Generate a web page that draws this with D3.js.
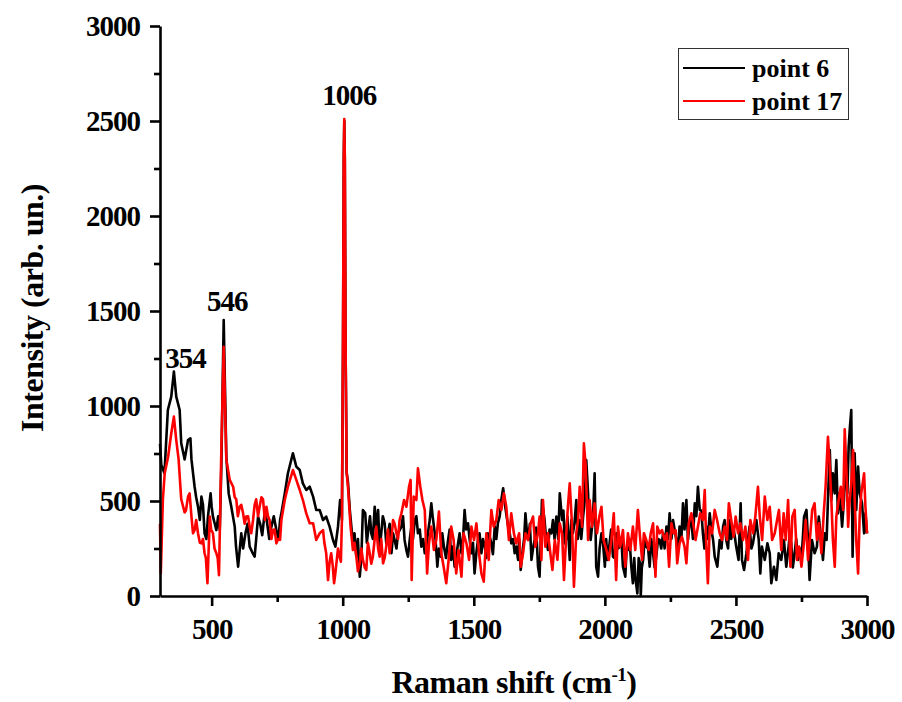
<!DOCTYPE html>
<html>
<head>
<meta charset="utf-8">
<script src="https://cdn.jsdelivr.net/npm/d3@7"></script>
<style>
  html, body { margin: 0; padding: 0; background: #fff; }
  svg text { font-family: "Liberation Serif", "Times New Roman", serif; font-weight: bold; fill: #000; }
</style>
</head>
<body>
<svg id="chart" width="902" height="702"></svg>
<script>
// ---- data: [Raman shift (cm-1), intensity (arb. un.)] ----
const point6 = [
[303,800],[308,690],[320,646],[333,979],[346,1049],[356,1181],[365,1049],[378,979],[384,804],[397,719],
[410,821],[419,830],[423,719],[435,575],[441,520],[448,470],[455,400],[461,523],[467,480],[473,330],
[480,300],[486,418],[491,480],[496,540],[500,470],[505,418],[512,380],[518,347],[525,420],[531,347],
[537,681],[546,1453],[556,733],[565,540],[575,470],[588,365],[593,260],[601,154],[613,330],[620,250],
[629,330],[637,380],[645,260],[655,230],[664,207],[670,300],[677,418],[685,380],[693,320],[702,435],
[710,400],[720,300],[728,365],[737,420],[747,347],[755,300],[761,400],[766,435],[779,540],[791,646],
[810,751],[823,681],[836,663],[848,593],[861,558],[874,575],[887,523],[899,453],[912,453],[925,400],
[937,418],[950,365],[963,295],[972,260],[982,365],[990,505],[997,400],[1001,1300],[1004,2300],[1006,2500],
[1008,2300],[1011,1300],[1015,650],[1020,600],[1027,453],[1039,277],[1045,330],[1052,207],[1058,300],[1065,102],
[1071,200],[1077,453],[1086,435],[1092,280],[1099,365],[1104,420],[1109,330],[1115,300],[1122,470],[1128,350],
[1135,453],[1141,250],[1147,330],[1153,420],[1160,383],[1166,280],[1173,330],[1179,380],[1186,225],[1192,330],
[1198,295],[1205,250],[1211,330],[1224,365],[1230,420],[1236,295],[1243,240],[1249,207],[1256,300],[1262,365],
[1268,300],[1275,400],[1281,420],[1287,330],[1294,350],[1300,260],[1307,300],[1313,225],[1319,250],[1325,330],
[1332,400],[1338,488],[1343,420],[1348,365],[1354,300],[1361,154],[1367,250],[1374,207],[1380,330],[1386,260],
[1394,200],[1402,295],[1408,350],[1414,190],[1420,260],[1427,154],[1434,220],[1440,277],[1446,330],[1453,225],
[1459,300],[1465,453],[1471,350],[1478,383],[1484,300],[1491,225],[1497,280],[1503,119],[1510,230],[1516,295],
[1522,330],[1529,225],[1535,300],[1542,260],[1548,200],[1554,330],[1561,310],[1567,277],[1573,220],[1580,365],
[1586,300],[1592,383],[1599,420],[1605,505],[1612,567],[1620,470],[1631,365],[1637,330],[1643,277],[1650,300],
[1656,225],[1662,260],[1669,190],[1673,300],[1679,137],[1688,260],[1692,300],[1697,435],[1702,350],[1707,295],
[1714,380],[1720,190],[1726,250],[1732,295],[1738,360],[1745,154],[1751,102],[1760,505],[1770,400],[1776,300],
[1783,242],[1789,350],[1796,330],[1802,400],[1808,300],[1815,418],[1822,300],[1828,540],[1837,400],[1842,450],
[1847,277],[1852,300],[1857,418],[1866,190],[1872,400],[1878,330],[1884,380],[1891,505],[1897,300],[1904,400],
[1910,300],[1917,418],[1923,500],[1929,716],[1936,540],[1940,350],[1946,295],[1955,418],[1961,646],[1967,154],
[1974,102],[1980,250],[1987,330],[1993,280],[2000,154],[2005,300],[2010,190],[2018,277],[2024,350],[2031,207],
[2037,200],[2044,330],[2050,250],[2057,260],[2063,300],[2069,154],[2078,102],[2083,250],[2088,242],[2094,300],
[2101,154],[2107,67],[2112,200],[2116,102],[2124,13],[2129,200],[2134,172],[2137,0],[2141,150],[2146,190],
[2152,300],[2158,260],[2165,250],[2171,154],[2177,300],[2184,225],[2190,150],[2196,207],[2203,300],[2209,295],
[2215,250],[2222,330],[2228,250],[2235,365],[2241,300],[2247,435],[2254,300],[2260,400],[2266,350],[2273,295],
[2279,250],[2285,365],[2292,300],[2298,488],[2304,350],[2311,505],[2317,295],[2323,380],[2330,400],[2336,300],
[2343,488],[2349,420],[2355,575],[2362,453],[2368,450],[2374,330],[2380,250],[2387,365],[2393,300],[2400,435],
[2406,350],[2413,295],[2419,207],[2429,154],[2438,295],[2445,250],[2451,365],[2457,400],[2463,295],[2470,250],
[2476,400],[2482,300],[2489,365],[2495,320],[2501,260],[2510,190],[2518,488],[2523,190],[2531,137],[2540,225],
[2546,300],[2552,365],[2559,250],[2565,277],[2571,330],[2578,400],[2582,350],[2587,295],[2593,119],[2599,260],
[2610,190],[2620,277],[2629,225],[2635,67],[2645,154],[2654,84],[2663,225],[2673,190],[2683,295],[2692,154],
[2701,260],[2705,320],[2711,277],[2717,150],[2724,225],[2730,300],[2737,190],[2744,250],[2750,190],[2755,300],
[2760,418],[2769,453],[2775,295],[2781,84],[2790,295],[2800,225],[2809,260],[2816,418],[2823,330],[2832,190],
[2839,330],[2846,295],[2851,505],[2858,768],[2864,505],[2870,646],[2877,540],[2883,716],[2889,435],[2896,540],
[2905,365],[2912,505],[2917,698],[2925,540],[2930,786],[2935,891],[2940,979],[2945,207],[2953,751],[2959,453],
[2966,681],[2972,540],[2981,488],[2989,330],[2994,435],[3000,330]
];
const point17 = [
[303,380],[306,120],[314,509],[321,646],[334,733],[346,856],[356,944],[365,821],[374,719],[384,509],
[397,440],[402,450],[410,523],[416,540],[423,418],[429,330],[435,347],[441,400],[448,330],[455,280],
[461,277],[467,300],[473,225],[478,200],[484,67],[493,418],[498,350],[505,330],[511,250],[518,225],
[523,200],[528,110],[537,768],[546,1312],[556,719],[569,611],[582,575],[588,520],[594,509],[600,420],
[607,470],[613,480],[620,435],[626,380],[632,418],[639,420],[645,365],[651,330],[658,400],[664,480],
[670,509],[677,420],[683,470],[690,520],[696,509],[703,400],[709,470],[715,420],[721,400],[728,300],
[734,347],[740,350],[747,277],[754,300],[761,295],[766,400],[779,505],[791,575],[810,663],[823,611],
[836,558],[848,505],[861,435],[874,383],[887,383],[899,295],[912,330],[925,347],[930,280],[937,225],
[944,84],[950,180],[956,225],[962,160],[967,67],[972,120],[976,172],[982,250],[988,207],[993,180],
[997,400],[1001,1300],[1004,2300],[1006,2510],[1008,2300],[1011,1300],[1015,650],[1020,575],[1030,365],[1039,242],
[1045,280],[1052,207],[1058,130],[1065,172],[1071,250],[1077,190],[1084,150],[1090,137],[1096,280],[1103,225],
[1109,170],[1115,207],[1122,300],[1128,365],[1135,250],[1141,207],[1147,300],[1154,172],[1160,200],[1166,260],
[1173,350],[1179,225],[1186,300],[1192,400],[1198,380],[1205,330],[1211,300],[1217,400],[1224,435],[1234,505],
[1243,470],[1253,575],[1259,611],[1263,84],[1271,523],[1281,505],[1287,672],[1296,575],[1304,505],[1313,453],
[1322,119],[1329,277],[1338,365],[1348,242],[1357,295],[1367,444],[1376,225],[1385,154],[1395,67],[1404,190],
[1414,365],[1423,295],[1433,119],[1442,242],[1453,102],[1461,330],[1472,277],[1482,190],[1491,365],[1501,295],
[1510,382],[1520,225],[1529,119],[1538,75],[1548,330],[1557,190],[1567,453],[1576,365],[1586,400],[1595,505],
[1605,453],[1615,540],[1624,470],[1634,295],[1643,435],[1653,330],[1662,277],[1673,330],[1679,154],[1688,225],
[1697,330],[1707,295],[1717,382],[1726,418],[1735,260],[1745,330],[1751,418],[1758,190],[1764,505],[1773,260],
[1783,330],[1792,225],[1800,137],[1809,295],[1819,190],[1828,383],[1837,330],[1844,84],[1853,330],[1859,470],
[1866,593],[1875,365],[1882,49],[1891,330],[1898,400],[1904,575],[1913,365],[1920,804],[1927,681],[1936,295],
[1942,505],[1951,365],[1961,488],[1970,330],[1979,418],[1987,470],[1995,295],[2006,242],[2015,190],[2025,295],
[2034,435],[2043,84],[2050,365],[2059,260],[2069,347],[2078,154],[2088,330],[2097,242],[2107,365],[2116,242],
[2126,453],[2133,330],[2142,190],[2149,330],[2158,295],[2167,242],[2175,330],[2184,383],[2193,102],[2200,365],
[2209,330],[2218,347],[2228,295],[2237,330],[2245,154],[2254,383],[2262,330],[2270,347],[2276,172],[2285,277],
[2294,312],[2304,260],[2311,172],[2320,383],[2330,435],[2339,365],[2346,295],[2355,365],[2364,435],[2374,400],
[2381,558],[2387,260],[2393,67],[2400,365],[2409,330],[2419,453],[2428,400],[2438,330],[2447,295],[2457,365],
[2466,295],[2473,488],[2482,400],[2491,312],[2499,418],[2508,330],[2517,383],[2527,295],[2536,365],[2546,190],
[2555,400],[2565,330],[2574,418],[2584,575],[2591,418],[2600,295],[2610,523],[2620,400],[2629,470],[2638,295],
[2648,330],[2657,400],[2664,453],[2673,242],[2682,435],[2690,295],[2699,505],[2708,154],[2715,418],[2724,453],
[2733,190],[2741,260],[2750,154],[2758,260],[2766,400],[2775,190],[2784,330],[2791,453],[2800,488],[2809,295],
[2817,383],[2826,225],[2835,435],[2842,575],[2851,838],[2858,681],[2864,505],[2870,295],[2877,154],[2883,418],
[2892,505],[2900,575],[2909,453],[2915,877],[2921,681],[2928,365],[2934,505],[2940,593],[2947,768],[2953,505],
[2959,295],[2966,119],[2972,418],[2978,540],[2989,646],[2994,470],[3000,330]
];
const seriesNames = ["point 6", "point 17"];
const seriesColors = ["#000000", "#ff0000"];
const xTicks = [500, 1000, 1500, 2000, 2500, 3000];
const xMinorTicks = [750, 1250, 1750, 2250, 2750];
const yTicks = [0, 500, 1000, 1500, 2000, 2500, 3000];
const yMinorTicks = [250, 750, 1250, 1750, 2250, 2750];
// peak label text and its anchor (shift, intensity) in data units
const peakLabels = [["354", 400, 1200], ["546", 560, 1500], ["1006", 1025, 2584]];

// ---- drawing ----
const svg = d3.select("#chart");
const x = d3.scaleLinear().domain([303, 3000]).range([160, 867]);
const y = d3.scaleLinear().domain([0, 3000]).range([596, 26]);

const line = d3.line().x(d => x(d[0])).y(d => y(d[1]));

const plot = svg.append("g");
[point6, point17].forEach((s, i) => {
  plot.append("path").datum(s)
    .attr("d", line)
    .attr("fill", "none")
    .attr("stroke", seriesColors[i])
    .attr("stroke-width", 2.6)
    .attr("stroke-linejoin", "round");
});

// axes
const fmt = d3.format("d");
svg.append("g").attr("transform", "translate(0,596)")
  .call(d3.axisBottom(x).tickValues(xTicks).tickFormat(fmt).tickSize(10).tickSizeOuter(0).tickPadding(12));
svg.append("g").attr("transform", "translate(0,596)")
  .call(d3.axisBottom(x).tickValues(xMinorTicks).tickSize(6).tickSizeOuter(0).tickFormat(""))
  .call(g => g.select(".domain").remove());
svg.append("g").attr("transform", "translate(160,0)")
  .call(d3.axisLeft(y).tickValues(yTicks).tickFormat(fmt).tickSize(10).tickSizeOuter(0).tickPadding(10));
svg.append("g").attr("transform", "translate(160,0)")
  .call(d3.axisLeft(y).tickValues(yMinorTicks).tickSize(6).tickSizeOuter(0).tickFormat(""))
  .call(g => g.select(".domain").remove());

svg.selectAll(".domain").attr("stroke", "#000").attr("stroke-width", 2.6);
svg.selectAll(".tick line").attr("stroke", "#000").attr("stroke-width", 2.6);
svg.selectAll(".tick text")
  .style("font-family", "'Liberation Serif', 'Times New Roman', serif")
  .style("font-weight", "bold")
  .style("font-size", "29px")
  .attr("letter-spacing", "-1")
  .attr("fill", "#000");

// axis titles
const xTitle = svg.append("text")
  .attr("x", 514).attr("y", 693)
  .attr("text-anchor", "middle")
  .style("font-size", "32px")
  .attr("letter-spacing", "-0.5");
xTitle.append("tspan").text("Raman shift (cm");
xTitle.append("tspan").attr("dy", -12).style("font-size", "19px").text("-1");
xTitle.append("tspan").attr("dy", 12).text(")");

svg.append("text")
  .attr("transform", "translate(43,308) rotate(-90)")
  .attr("text-anchor", "middle")
  .style("font-size", "32px")
  .attr("letter-spacing", "-0.5")
  .text("Intensity (arb. un.)");

// peak labels
svg.selectAll(".peak").data(peakLabels).enter().append("text")
  .attr("class", "peak")
  .attr("x", d => x(d[1]))
  .attr("y", d => y(d[2]))
  .attr("text-anchor", "middle")
  .style("font-size", "29px")
  .attr("letter-spacing", "-1")
  .text(d => d[0]);

// legend
const legend = svg.append("g");
legend.append("rect")
  .attr("x", 678.5).attr("y", 48.5).attr("width", 170).attr("height", 71)
  .attr("fill", "#fff").attr("stroke", "#333").attr("stroke-width", 1);
seriesNames.forEach((n, i) => {
  const cy = 68 + i * 33;
  legend.append("line")
    .attr("x1", 683).attr("x2", 745).attr("y1", cy).attr("y2", cy)
    .attr("stroke", seriesColors[i]).attr("stroke-width", 2.2);
  legend.append("text")
    .attr("x", 752).attr("y", cy + 9)
    .style("font-size", "26px")
    .text(n);
});
</script>
</body>
</html>
